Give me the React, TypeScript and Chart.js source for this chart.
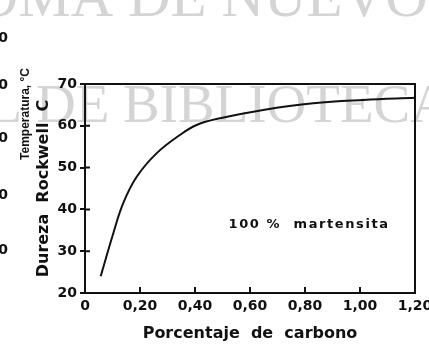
import React, { useEffect, useRef } from "react";
import { Chart, registerables } from "chart.js";

Chart.register(...registerables);

// ---- data ----
const carbonPct = [0.057, 0.103, 0.139, 0.188, 0.26, 0.345, 0.406, 0.491, 0.648, 0.83, 1.012, 1.2];
const hardnessHRC = [24, 34.3, 41.5, 47.8, 53.4, 57.8, 60.2, 61.8, 63.8, 65.4, 66.2, 66.7];
const xTickValues = [0, 0.2, 0.4, 0.6, 0.8, 1.0, 1.2];
const yTickValues = [20, 30, 40, 50, 60, 70];
const xTitle = "Porcentaje  de  carbono";
const yTitle = "Dureza  Rockwell  C";
const annotationText = "100 %  martensita";
const annotationAt = [0.815, 36.3];
const sideTitle = "Temperatura, °C";
const sideTickText = "0";
const watermarkTop = ["UNIVERSIDAD AUTÓNOMA ", "DE NUEVO LEÓN"];
const watermarkMid = ["DIRECCIÓN GENERAL DE ", "BIBLIOTECAS"];

const FONT = '"DejaVu Sans", sans-serif';

function fmtX(v: number) {
  if (v === 0) return "0";
  return v.toFixed(2).replace(".", ",");
}

const decorPlugin = {
  id: "decor",
  beforeDraw(chart: any) {
    const ctx = chart.ctx as CanvasRenderingContext2D;
    ctx.save();
    ctx.fillStyle = "#ffffff";
    ctx.fillRect(0, 0, chart.width, chart.height);
    // watermark
    ctx.fillStyle = "#d4d4d4";
    ctx.textBaseline = "alphabetic";
    ctx.font = '59px "Liberation Serif", serif';
    ctx.textAlign = "right";
    ctx.fillText(watermarkTop[0], 128, 16);
    ctx.textAlign = "left";
    ctx.fillText(watermarkTop[1], 128, 16);
    ctx.font = '55px "Liberation Serif", serif';
    ctx.textAlign = "right";
    ctx.fillText(watermarkMid[0], 123, 122);
    ctx.textAlign = "left";
    ctx.fillText(watermarkMid[1], 123, 122);
    // fragments of the neighbouring figure at the left edge
    ctx.fillStyle = "#111";
    ctx.font = "bold 14px " + FONT;
    ctx.textAlign = "right";
    ctx.textBaseline = "middle";
    [38, 85, 138, 195, 250].forEach((y) => ctx.fillText(sideTickText, 8, y));
    ctx.save();
    ctx.translate(26, 114);
    ctx.rotate(-Math.PI / 2);
    ctx.textAlign = "center";
    ctx.font = 'bold 12px "Liberation Sans", sans-serif';
    ctx.fillText(sideTitle, 0, 0);
    ctx.restore();
    ctx.restore();
  },
  afterDraw(chart: any) {
    const ctx = chart.ctx as CanvasRenderingContext2D;
    const { left, right, top, bottom } = chart.chartArea;
    const xs = chart.scales.x;
    const ys = chart.scales.y;
    ctx.save();
    ctx.strokeStyle = "#111";
    ctx.lineWidth = 2;
    // frame (top and right)
    ctx.beginPath();
    ctx.moveTo(left, top);
    ctx.lineTo(right, top);
    ctx.lineTo(right, bottom);
    ctx.stroke();
    // inner ticks
    ctx.beginPath();
    xTickValues.forEach((v) => {
      const px = xs.getPixelForValue(v);
      ctx.moveTo(px, bottom);
      ctx.lineTo(px, bottom - 6);
    });
    yTickValues.forEach((v) => {
      const py = ys.getPixelForValue(v);
      ctx.moveTo(left, py);
      ctx.lineTo(left + 5, py);
    });
    ctx.stroke();
    // annotation
    ctx.fillStyle = "#111";
    ctx.font = "bold 13px " + FONT;
    (ctx as any).letterSpacing = "1.6px";
    ctx.textAlign = "center";
    ctx.textBaseline = "middle";
    ctx.fillText(
      annotationText,
      xs.getPixelForValue(annotationAt[0]),
      ys.getPixelForValue(annotationAt[1])
    );
    ctx.restore();
  },
};

export default function App() {
  const ref = useRef<HTMLCanvasElement | null>(null);

  useEffect(() => {
    if (!ref.current) return;
    const chart = new Chart(ref.current, {
      type: "line",
      data: {
        datasets: [
          {
            data: carbonPct.map((x, i) => ({ x, y: hardnessHRC[i] })),
            borderColor: "#111",
            borderWidth: 2,
            pointRadius: 0,
            tension: 0.4,
            fill: false,
          },
        ],
      },
      options: {
        animation: false,
        responsive: false,
        devicePixelRatio: 1,
        layout: { padding: { top: 84, right: 14, left: 0, bottom: 0 } },
        plugins: { legend: { display: false }, tooltip: { enabled: false } },
        scales: {
          x: {
            type: "linear",
            min: 0,
            max: 1.2,
            afterBuildTicks: (s: any) => {
              s.ticks = xTickValues.map((value) => ({ value }));
            },
            afterFit: (s: any) => {
              s.height = 56;
              s.paddingLeft = 0;
              s.paddingRight = 0;
            },
            grid: { display: true, drawOnChartArea: false, drawTicks: false, color: "#111" },
            border: { display: true, color: "#111", width: 2 },
            ticks: {
              padding: 5,
              color: "#111",
              maxRotation: 0,
              autoSkip: false,
              font: { family: FONT, size: 14, weight: "bold" },
              callback: (v: any) => fmtX(Number(v)),
            },
            title: {
              display: true,
              text: xTitle,
              color: "#111",
              font: { family: FONT, size: 16, weight: "bold" },
              padding: { top: 0, bottom: 6 },
            },
          },
          y: {
            type: "linear",
            min: 20,
            max: 70,
            afterBuildTicks: (s: any) => {
              s.ticks = yTickValues.map((value) => ({ value }));
            },
            afterFit: (s: any) => {
              s.width = 85;
              s.paddingTop = 0;
              s.paddingBottom = 0;
            },
            grid: {
              display: true,
              drawOnChartArea: false,
              drawTicks: true,
              tickLength: 5,
              color: "#111",
              lineWidth: 2,
            },
            border: { display: true, color: "#111", width: 2 },
            ticks: {
              padding: 3,
              color: "#111",
              autoSkip: false,
              font: { family: FONT, size: 14, weight: "bold" },
            },
            title: {
              display: true,
              text: yTitle,
              color: "#111",
              font: { family: FONT, size: 16, weight: "bold" },
              padding: { top: 34, bottom: 0 },
            },
          },
        },
      } as any,
      plugins: [decorPlugin as any],
    });
    return () => chart.destroy();
  }, []);

  return (
    <div style={{ position: "absolute", left: 0, top: 0, width: 429, height: 349 }}>
      <canvas ref={ref} width={429} height={349} />
    </div>
  );
}
